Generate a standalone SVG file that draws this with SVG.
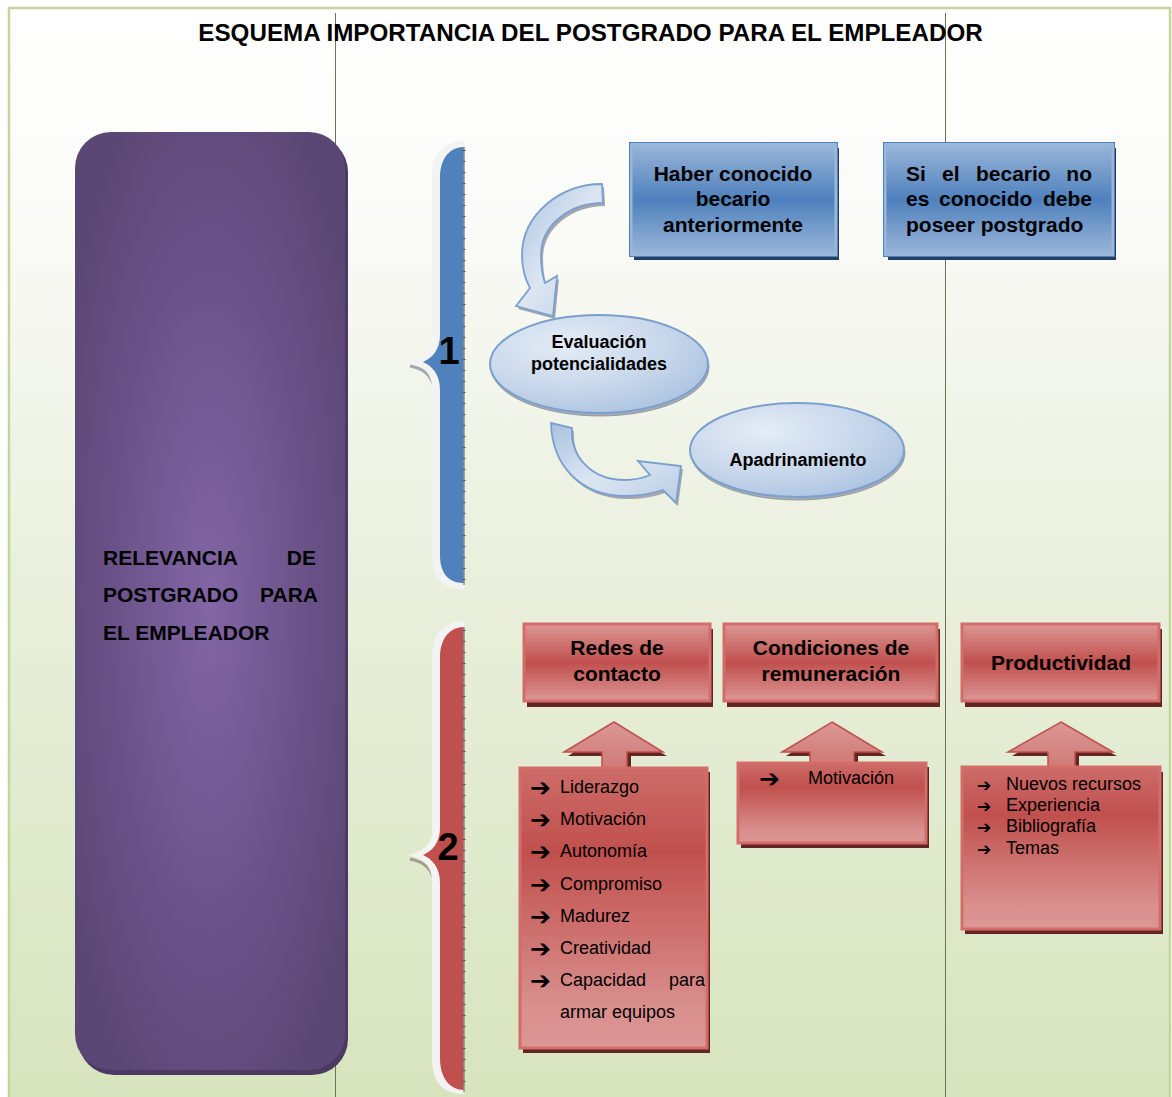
<svg xmlns="http://www.w3.org/2000/svg" width="1172" height="1097" viewBox="0 0 1172 1097">
<defs>
<linearGradient id="bg" x1="0" y1="0" x2="0" y2="1">
<stop offset="0" stop-color="#ffffff"/>
<stop offset="0.2" stop-color="#fafaf7"/>
<stop offset="0.5" stop-color="#eaf0de"/>
<stop offset="1" stop-color="#d7e4bd"/>
</linearGradient>
<radialGradient id="purp" cx="0.5" cy="0.5" r="0.6">
<stop offset="0" stop-color="#8266a5"/>
<stop offset="0.6" stop-color="#6a5288"/>
<stop offset="1" stop-color="#5b4775"/>
</radialGradient>
<linearGradient id="blueBox" x1="0" y1="0" x2="0" y2="1">
<stop offset="0" stop-color="#9ab6d9"/>
<stop offset="0.5" stop-color="#4f81bd"/>
<stop offset="1" stop-color="#9ab6d9"/>
</linearGradient>
<linearGradient id="redBox" x1="0" y1="0" x2="0" y2="1">
<stop offset="0" stop-color="#dc9795"/>
<stop offset="0.5" stop-color="#c0504d"/>
<stop offset="1" stop-color="#dc9795"/>
</linearGradient>
<linearGradient id="redList" x1="0" y1="0" x2="0" y2="1">
<stop offset="0" stop-color="#cd6c69"/>
<stop offset="0.3" stop-color="#c0504d"/>
<stop offset="0.85" stop-color="#d98f8d"/>
<stop offset="1" stop-color="#dc9795"/>
</linearGradient>
<linearGradient id="redArrow" x1="0" y1="0" x2="0" y2="1">
<stop offset="0" stop-color="#dc9795"/>
<stop offset="1" stop-color="#cf7a77"/>
</linearGradient>
<radialGradient id="ell" cx="0.35" cy="0.3" r="0.8">
<stop offset="0" stop-color="#e4ecf6"/>
<stop offset="0.6" stop-color="#c6d6ea"/>
<stop offset="1" stop-color="#a9c1e0"/>
</radialGradient>
<linearGradient id="carrow" x1="0" y1="0" x2="1" y2="1">
<stop offset="0" stop-color="#a8c1e0"/>
<stop offset="0.5" stop-color="#dce6f2"/>
<stop offset="1" stop-color="#b9cde5"/>
</linearGradient>
<style>
.t{font-family:"Liberation Sans",Arial,sans-serif;fill:#000}
.b{font-weight:bold}
.blueBox{fill:url(#blueBox);stroke:#9ab6d9;stroke-width:3}
.blueOut{fill:none;stroke:#4f81bd;stroke-width:1}
.blueSh{fill:#243f60}
.redBox{fill:url(#redBox);stroke:#d46c69;stroke-width:3}
.redList{fill:url(#redList);stroke:#d46c69;stroke-width:3}
.redSh{fill:#632523}
.redArrow{fill:url(#redArrow);stroke:#c0504d;stroke-width:1.5}
.ell{fill:url(#ell);stroke:#7ba0cd;stroke-width:2}
.ellSh{fill:#a8acb2;stroke:#8a8e94;stroke-width:0.8}
.carrow{fill:url(#carrow);stroke:#7ba0cd;stroke-width:1.8}
.carrowSh{fill:#a3a7ad}
.bul{font-family:"DejaVu Sans",sans-serif;font-size:25px;font-weight:bold;fill:#000}
.bul2{font-family:"DejaVu Sans",sans-serif;font-size:17px;font-weight:bold;fill:#000}
.li{font-family:"Liberation Sans",Arial,sans-serif;font-size:18px;fill:#000}
.vl{stroke:#6f7355;stroke-width:1}
.ruler{stroke:#8c8c8c;stroke-width:1.5}
.tick{stroke:#555;stroke-width:3;stroke-dasharray:1 10}
</style>
</defs>

<rect x="0" y="0" width="1172" height="1097" fill="#ffffff"/>
<rect x="9" y="8" width="1161" height="1095" fill="url(#bg)" stroke="#c3d69b" stroke-width="2.5"/>
<line class="vl" x1="335.5" y1="13" x2="335.5" y2="1097"/>
<line class="vl" x1="945.5" y1="13" x2="945.5" y2="1097"/>

<g id="title">
<text class="t b" x="590.5" y="41" font-size="24.2" text-anchor="middle">ESQUEMA IMPORTANCIA DEL POSTGRADO PARA EL EMPLEADOR</text>
</g>

<g id="relevancia">
<rect x="78" y="136" width="270" height="939" rx="36" fill="#4b3b63"/>
<rect x="75" y="132" width="270" height="938" rx="36" fill="url(#purp)"/>
<text class="t b" x="103" y="565" font-size="21">RELEVANCIA</text>
<text class="t b" x="316" y="565" font-size="21" text-anchor="end">DE</text>
<text class="t b" x="103" y="602" font-size="21">POSTGRADO</text>
<text class="t b" x="318" y="602" font-size="21" text-anchor="end">PARA</text>
<text class="t b" x="103" y="640" font-size="21">EL EMPLEADOR</text>
</g>

<g id="brace1">
<path d="M410,366 C422,368 430,374 433,384" fill="none" stroke="#7d8794" stroke-width="3" opacity="0.7"/>
<path d="M464,141 C444,141 432,154 432,178 L432,338 C432,352 422,359 407,362 C422,365 432,372 432,388 L432,555 C432,580 444,589 464,589 Z" fill="#f3f3f3"/>
<path d="M464,147 C450,147 440,158 440,178 L440,335 C440,350 432,358 423,362 C432,366 440,374 440,390 L440,555 C440,575 450,583 464,583 Z" fill="#4f81bd"/>
<line class="ruler" x1="464" y1="147" x2="464" y2="585"/>
<line class="tick" x1="464" y1="150" x2="464" y2="585"/>
<text class="t b" x="449" y="364" font-size="38" text-anchor="middle">1</text>
</g>

<g id="brace2">
<path d="M410,859 C422,861 430,867 433,877" fill="none" stroke="#8a7d74" stroke-width="3" opacity="0.7"/>
<path d="M464,621 C444,621 432,634 432,658 L432,831 C432,845 422,852 407,855 C422,858 432,865 432,881 L432,1058 C432,1083 444,1094 464,1094 Z" fill="#f3f3f3"/>
<path d="M464,627 C450,627 440,638 440,658 L440,828 C440,843 432,851 423,855 C432,859 440,867 440,883 L440,1058 C440,1078 450,1090 464,1090 Z" fill="#c0504d"/>
<line class="ruler" x1="464" y1="627" x2="464" y2="1092"/>
<line class="tick" x1="464" y1="630" x2="464" y2="1092"/>
<text class="t b" x="448" y="860" font-size="38" text-anchor="middle">2</text>
</g>

<g id="connectors">
<g id="arrow-haber-evaluacion">
<path class="carrowSh" transform="translate(2,3)" d="M602,184 C560,184 522,215 522,255 C522,268 525,279 530,288 L516,306 L553,316 L557,276 L545,283 C542,275 541,265 541,255 C541,225 570,203 603,203 Z"/>
<path class="carrow" d="M602,184 C560,184 522,215 522,255 C522,268 525,279 530,288 L516,306 L553,316 L557,276 L545,283 C542,275 541,265 541,255 C541,225 570,203 603,203 Z"/>
</g>
<g id="arrow-evaluacion-apadrinamiento">
<path class="carrowSh" transform="translate(2,3)" d="M551,423 L572,428 C570,455 590,480 625,480 C635,480 643,478 650,475 L638,461 L681,466 L676,503 L663,490 C650,494 640,496 625,496 C580,496 552,465 551,423 Z"/>
<path class="carrow" d="M551,423 L572,428 C570,455 590,480 625,480 C635,480 643,478 650,475 L638,461 L681,466 L676,503 L663,490 C650,494 640,496 625,496 C580,496 552,465 551,423 Z"/>
</g>
<g id="arrow-redes">
<polygon class="redSh" points="614,726 667,756 631,756 631,772 606,772 606,756 568,756"/>
<polygon class="redArrow" points="614,722 663,752 627,752 627,769 602,769 602,752 564,752"/>
</g>
<g id="arrow-condiciones">
<polygon class="redSh" points="832,726 886,756 858,756 858,767 814,767 814,756 786,756"/>
<polygon class="redArrow" points="832,722 882,752 854,752 854,764 810,764 810,752 782,752"/>
</g>
<g id="arrow-productividad">
<polygon class="redSh" points="1061,726 1117,756 1079,756 1079,771 1052,771 1052,756 1012,756"/>
<polygon class="redArrow" points="1061,722 1113,752 1075,752 1075,768 1048,768 1048,752 1008,752"/>
</g>
</g>

<g id="haber">
<rect class="blueSh" x="634" y="148" width="205" height="112"/>
<rect class="blueBox" x="631" y="144" width="205" height="111"/>
<rect class="blueOut" x="629.5" y="142.5" width="208" height="114"/>
<text class="t b" font-size="21" text-anchor="middle"><tspan x="733" y="181">Haber conocido</tspan><tspan x="733" y="206">becario</tspan><tspan x="733" y="232">anteriormente</tspan></text>
</g>

<g id="sibecario">
<rect class="blueSh" x="888" y="148" width="228" height="112"/>
<rect class="blueBox" x="885" y="144" width="228" height="111"/>
<rect class="blueOut" x="883.5" y="142.5" width="231" height="114"/>
<text class="t b" font-size="21" x="906" y="181">Si</text>
<text class="t b" font-size="21" x="942" y="181">el</text>
<text class="t b" font-size="21" x="976" y="181">becario</text>
<text class="t b" font-size="21" x="1092" y="181" text-anchor="end">no</text>
<text class="t b" font-size="21" x="906" y="206">es</text>
<text class="t b" font-size="21" x="939" y="206">conocido</text>
<text class="t b" font-size="21" x="1092" y="206" text-anchor="end">debe</text>
<text class="t b" font-size="21" x="906" y="232">poseer postgrado</text>
</g>

<g id="evaluacion">
<ellipse class="ellSh" cx="600" cy="367" rx="109" ry="49"/>
<ellipse class="ell" cx="599" cy="364" rx="109" ry="49"/>
<text class="t b" font-size="18" text-anchor="middle"><tspan x="599" y="348">Evaluación</tspan><tspan x="599" y="370">potencialidades</tspan></text>
</g>

<g id="apadrinamiento">
<ellipse class="ellSh" cx="798" cy="453" rx="107" ry="47"/>
<ellipse class="ell" cx="797" cy="450" rx="107" ry="47"/>
<text class="t b" font-size="18" x="798" y="466" text-anchor="middle">Apadrinamiento</text>
</g>

<g id="redes">
<rect class="redSh" x="527" y="629" width="186" height="78"/>
<rect class="redBox" x="524" y="624" width="186" height="77"/>
<text class="t b" font-size="21" text-anchor="middle"><tspan x="617" y="655">Redes de</tspan><tspan x="617" y="681">contacto</tspan></text>
</g>

<g id="condiciones">
<rect class="redSh" x="727" y="629" width="213" height="78"/>
<rect class="redBox" x="724" y="624" width="213" height="77"/>
<text class="t b" font-size="21" text-anchor="middle"><tspan x="831" y="655">Condiciones de</tspan><tspan x="831" y="681">remuneración</tspan></text>
</g>

<g id="productividad">
<rect class="redSh" x="965" y="629" width="197" height="78"/>
<rect class="redBox" x="962" y="624" width="197" height="77"/>
<text class="t b" font-size="21" x="1061" y="670" text-anchor="middle">Productividad</text>
</g>

<g id="lista-redes">
<rect class="redSh" x="523" y="772" width="187" height="281"/>
<rect class="redList" x="520" y="768" width="187" height="280"/>
<text class="bul" x="530" y="796">➔</text><text class="li" x="560" y="793">Liderazgo</text>
<text class="bul" x="530" y="828">➔</text><text class="li" x="560" y="825">Motivación</text>
<text class="bul" x="530" y="860">➔</text><text class="li" x="560" y="857">Autonomía</text>
<text class="bul" x="530" y="893">➔</text><text class="li" x="560" y="890">Compromiso</text>
<text class="bul" x="530" y="925">➔</text><text class="li" x="560" y="922">Madurez</text>
<text class="bul" x="530" y="957">➔</text><text class="li" x="560" y="954">Creatividad</text>
<text class="bul" x="530" y="989">➔</text><text class="li" x="560" y="986">Capacidad</text><text class="li" x="705" y="986" text-anchor="end">para</text>
<text class="li" x="560" y="1018">armar equipos</text>
</g>

<g id="lista-condiciones">
<rect class="redSh" x="741" y="767" width="188" height="81"/>
<rect class="redList" x="738" y="763" width="188" height="80"/>
<text class="bul" x="759" y="787">➔</text><text class="li" x="808" y="784">Motivación</text>
</g>

<g id="lista-productividad">
<rect class="redSh" x="965" y="772" width="198" height="162"/>
<rect class="redList" x="962" y="767" width="198" height="162"/>
<text class="bul2" x="977" y="791">➔</text><text class="li" x="1006" y="790">Nuevos recursos</text>
<text class="bul2" x="977" y="812">➔</text><text class="li" x="1006" y="811">Experiencia</text>
<text class="bul2" x="977" y="833">➔</text><text class="li" x="1006" y="832">Bibliografía</text>
<text class="bul2" x="977" y="855">➔</text><text class="li" x="1006" y="854">Temas</text>
</g>
</svg>
